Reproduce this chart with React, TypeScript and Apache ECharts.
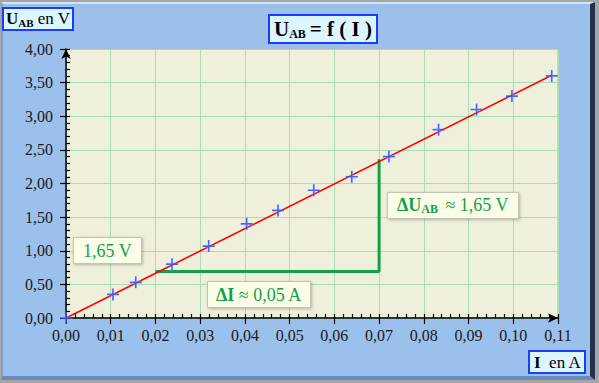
import React, { useEffect, useRef } from "react";
import * as echarts from "echarts";

// Measured data: current I (A) and voltage U_AB (V)
const currentA = [0, 0.0105, 0.0156, 0.0237, 0.0319, 0.0404, 0.0474, 0.0554, 0.0639, 0.0722, 0.0833, 0.0918, 0.0997, 0.1086];
const voltageV = [0, 0.35, 0.53, 0.8, 1.07, 1.4, 1.6, 1.9, 2.1, 2.4, 2.8, 3.1, 3.3, 3.6];

// Fitted straight line through origin
const fitI = [0, 0.1086];
const fitU = [0, 3.61];

// Slope construction (ΔI, ΔU)
const deltaI = [0.02, 0.07, 0.07];
const deltaU = [0.69, 0.69, 2.36];

// Vertical marker for 1,65 V along the y axis
const markI = [-0.0009, -0.0009];
const markU = [0, 1.66];

// Axis ranges / ticks
const xMin = 0, xMax = 0.11, xStep = 0.01, xMinorStep = 0.002;
const yMin = 0, yMax = 4, yStep = 0.5, yMinorStep = 0.1;

// Texts
const titleText = "{u|U}{s|AB}{t|= f ( I )}";
const yNameText = "{u|U}{s|AB}{t| en V}";
const xNameText = "{u|I}{t|  en A}";
const label165 = "{n|1,65 V}";
const labelDI = "{b|ΔI}{n| ≈ 0,05 A}";
const labelDU = "{b|ΔU}{s|AB}{n| ≈ 1,65 V}";

const FONT = "Liberation Serif";
const GREEN = "#14a048";

const fmt = (v: number) => v.toFixed(2).replace(".", ",");

const zip = (a: number[], b: number[]) => a.map((v, i) => [v, b[i]]);

export default function App() {
  const ref = useRef<HTMLDivElement>(null);

  useEffect(() => {
    if (!ref.current) return;
    const chart = echarts.init(ref.current, undefined, { renderer: "svg" });

    const blueBox = {
      backgroundColor: "#dcf6ff",
      borderColor: "#1a3cff",
      borderWidth: 2,
    };
    const greenBox = {
      backgroundColor: "#fcfde8",
      borderColor: "#c4c4b4",
      borderWidth: 1,
      shadowBlur: 3,
      shadowColor: "rgba(0,0,0,0.25)",
      shadowOffsetX: 1,
      shadowOffsetY: 1,
    };

    const tok = (size: number, weight: string, color: string, lh: number, sub = false, padR = 0) => ({
      fontFamily: FONT,
      fontSize: size,
      fontWeight: weight,
      color,
      lineHeight: lh,
      ...(sub ? { verticalAlign: "bottom" } : {}),
      ...(padR ? { padding: [0, padR, 0, 0] } : {}),
    });

    const option: any = {
      animation: false,
      backgroundColor: "transparent",
      title: [
        {
          text: titleText,
          left: 269,
          top: 14,
          padding: [3, 5, 3, 5],
          ...blueBox,
          textStyle: {
            fontFamily: FONT,
            fontWeight: "bold",
            fontSize: 20,
            rich: {
              u: tok(21, "bold", "#000", 23),
              s: tok(12, "bold", "#000", 13, true, 4),
              t: tok(21, "bold", "#000", 23),
            },
          },
        },
        {
          text: yNameText,
          left: 3,
          top: 7,
          padding: [2, 3, 2, 3],
          ...blueBox,
          textStyle: {
            fontFamily: FONT,
            fontWeight: "normal",
            fontSize: 17,
            rich: {
              u: tok(17, "bold", "#000", 19),
              s: tok(11, "bold", "#000", 12, true),
              t: tok(17, "normal", "#000", 19),
            },
          },
        },
        {
          text: xNameText,
          left: 529,
          top: 350,
          padding: [3, 4, 2, 5],
          ...blueBox,
          textStyle: {
            fontFamily: FONT,
            fontWeight: "normal",
            fontSize: 17,
            rich: {
              u: tok(17, "bold", "#000", 19),
              t: tok(17, "normal", "#000", 19),
            },
          },
        },
        {
          text: label165,
          left: 73,
          top: 236,
          padding: [5, 10, 4, 10],
          ...greenBox,
          textStyle: {
            fontFamily: FONT,
            fontWeight: "normal",
            fontSize: 18,
            rich: { n: tok(18, "normal", GREEN, 20) },
          },
        },
        {
          text: labelDI,
          left: 207,
          top: 280,
          padding: [5, 9, 4, 9],
          ...greenBox,
          textStyle: {
            fontFamily: FONT,
            fontWeight: "normal",
            fontSize: 18,
            rich: {
              b: tok(18, "bold", GREEN, 20),
              n: tok(18, "normal", GREEN, 20),
            },
          },
        },
        {
          text: labelDU,
          left: 387,
          top: 191,
          padding: [4, 10, 4, 10],
          ...greenBox,
          textStyle: {
            fontFamily: FONT,
            fontWeight: "normal",
            fontSize: 18,
            rich: {
              b: tok(18, "bold", GREEN, 20),
              s: tok(12, "bold", GREEN, 13, true, 3),
              n: tok(18, "normal", GREEN, 20),
            },
          },
        },
      ],
      grid: {
        left: 66,
        right: 41,
        top: 49,
        bottom: 65,
        show: true,
        backgroundColor: "#eef0dc",
        borderColor: "#b4b4a8",
        borderWidth: 1,
      },
      xAxis: [
        {
          type: "value",
          min: xMin,
          max: xMax,
          interval: xStep,
          position: "bottom",
          axisLine: {
            show: true,
            onZero: false,
            symbol: ["none", "arrow"],
            symbolSize: [7, 10],
            lineStyle: { color: "#000", width: 1.5 },
          },
          axisTick: { show: true, inside: false, length: 6, lineStyle: { color: "#000", width: 1.2 } },
          axisLabel: { formatter: fmt, fontFamily: FONT, fontSize: 16, color: "#1a1a1a", margin: 9 },
          splitLine: { show: true, lineStyle: { color: "#a9dcb3", width: 1 } },
        },
        {
          type: "value",
          min: xMin,
          max: xMax,
          interval: xMinorStep,
          position: "bottom",
          axisLine: { show: false, onZero: false },
          axisTick: { show: true, inside: true, length: 4, lineStyle: { color: "#000", width: 1.2 } },
          axisLabel: { show: false },
          splitLine: { show: false },
        },
      ],
      yAxis: [
        {
          type: "value",
          min: yMin,
          max: yMax,
          interval: yStep,
          position: "left",
          axisLine: {
            show: true,
            onZero: false,
            symbol: ["none", "arrow"],
            symbolSize: [7, 10],
            lineStyle: { color: "#000", width: 1.5 },
          },
          axisTick: { show: true, inside: false, length: 6, lineStyle: { color: "#000", width: 1.2 } },
          axisLabel: { formatter: fmt, fontFamily: FONT, fontSize: 16, color: "#1a1a1a", margin: 13 },
          splitLine: { show: true, lineStyle: { color: "#a9dcb3", width: 1 } },
        },
        {
          type: "value",
          min: yMin,
          max: yMax,
          interval: yMinorStep,
          position: "left",
          axisLine: { show: false, onZero: false },
          axisTick: { show: true, inside: true, length: 4, lineStyle: { color: "#000", width: 1.2 } },
          axisLabel: { show: false },
          splitLine: { show: false },
        },
      ],
      series: [
        {
          type: "line",
          data: zip(markI, markU),
          showSymbol: false,
          clip: false,
          lineStyle: { color: GREEN, width: 3 },
          z: 2,
        },
        {
          type: "line",
          data: zip(deltaI, deltaU),
          showSymbol: false,
          lineStyle: { color: GREEN, width: 3 },
          z: 2,
        },
        {
          type: "line",
          data: zip(fitI, fitU),
          showSymbol: false,
          lineStyle: { color: "#ff0000", width: 1.6 },
          z: 3,
        },
        {
          type: "scatter",
          data: zip(currentA, voltageV),
          symbol: "path://M4.3,0h1.4v4.3h4.3v1.4h-4.3v4.3h-1.4v-4.3h-4.3v-1.4h4.3z",
          symbolSize: 12,
          itemStyle: { color: "#0018ff", shadowBlur: 2, shadowColor: "rgba(170,235,255,0.7)" },
          z: 4,
        },
      ],
    };

    chart.setOption(option);
    return () => chart.dispose();
  }, []);

  return (
    <div style={{ position: "fixed", left: 0, top: 0, width: 599, height: 383, background: "#a6a6a6" }}>
      <div
        style={{
          position: "absolute",
          left: 1,
          top: 2,
          width: 594,
          height: 378,
          boxSizing: "border-box",
          background: "#9cc0ec",
          borderTop: "2px solid #d2e4f8",
          borderLeft: "2px solid #7c9ecc",
          borderRight: "5px solid #22324a",
          borderBottom: "4px solid #6a8cbc",
        }}
      />
      <div ref={ref} style={{ position: "absolute", left: 0, top: 0, width: 599, height: 383 }} />
    </div>
  );
}
